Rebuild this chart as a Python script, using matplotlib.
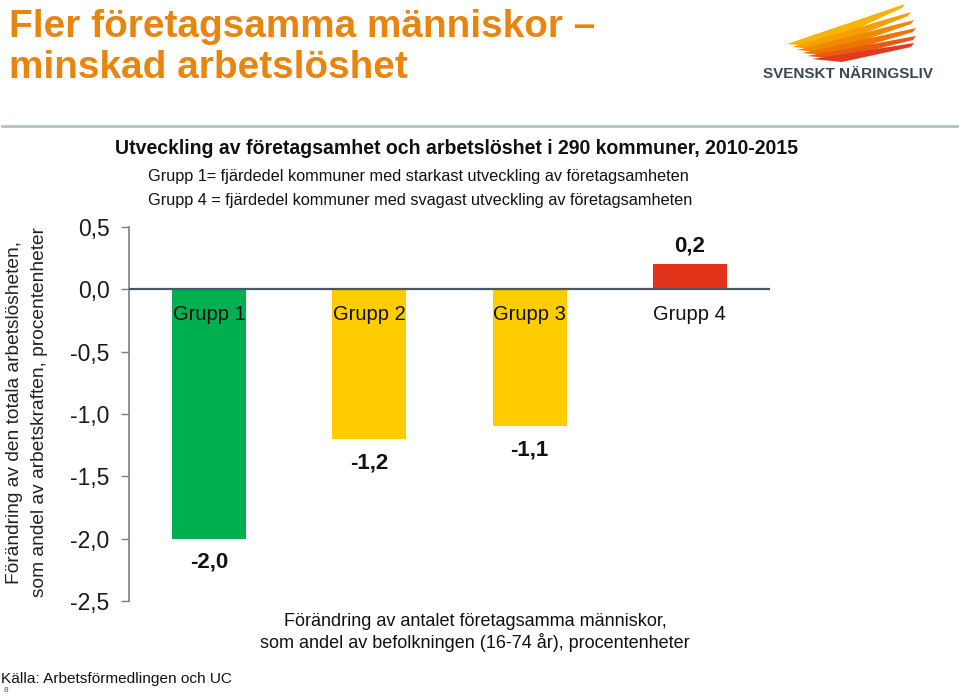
import matplotlib
matplotlib.use("Agg")
import matplotlib.pyplot as plt
from matplotlib.lines import Line2D
from matplotlib.patches import Polygon
import numpy as np

plt.rcParams['font.family'] = ['Liberation Sans', 'DejaVu Sans']

categories = ["Grupp 1", "Grupp 2", "Grupp 3", "Grupp 4"]
values = [-2.0, -1.2, -1.1, 0.2]
value_labels = ["-2,0", "-1,2", "-1,1", "0,2"]
bar_colors = ["#00B050", "#FFCC00", "#FFCC00", "#E2341A"]
yticks = [0.5, 0.0, -0.5, -1.0, -1.5, -2.0, -2.5]
ytick_labels = ["0,5", "0,0", "-0,5", "-1,0", "-1,5", "-2,0", "-2,5"]

W, H = 959, 696
fig = plt.figure(figsize=(W / 100, H / 100), dpi=100)


def fx(x):
    return x / W


def fy(y):
    return 1 - y / H


# Main axes
ax = fig.add_axes([fx(129), fy(601), fx(770) - fx(129), fy(227) - fy(601)])
x = np.arange(len(categories))
ax.bar(x, values, width=0.4625, color=bar_colors, zorder=2)
ax.set_xlim(-0.5, 3.5)
ax.set_ylim(-2.5, 0.5)
ax.set_yticks(yticks)
ax.set_yticklabels(ytick_labels, fontsize=16.5, color="#1a1a1a")
ax.tick_params(axis="y", direction="out", length=6, width=1, color="#7f7f7f", pad=8)
ax.set_xticks([])
for s in ["top", "right", "bottom"]:
    ax.spines[s].set_visible(False)
ax.spines["left"].set_color("#7f7f7f")
ax.spines["left"].set_linewidth(1.2)
ax.axhline(0, color="#4a5866", lw=1.6, zorder=3)

for i, (v, lab) in enumerate(zip(values, value_labels)):
    if v < 0:
        ax.annotate(lab, (i, v), xytext=(0, -17), textcoords="offset points",
                    ha="center", va="center", fontsize=16, fontweight="bold",
                    color="#111111")
    else:
        ax.annotate(lab, (i, v), xytext=(0, 13), textcoords="offset points",
                    ha="center", va="center", fontsize=16, fontweight="bold",
                    color="#111111")
    ax.text(i, -0.2, categories[i], ha="center", va="center", fontsize=14.5,
            color="#111111", zorder=4)

# Y label
fig.text(fx(15), fy(412), "Förändring av den totala arbetslösheten,", rotation=90,
         ha="center", va="center", fontsize=13.8, color="#222222")
fig.text(fx(40), fy(412), "som andel av arbetskraften, procentenheter", rotation=90,
         ha="center", va="center", fontsize=13.8, color="#222222")

# Headline
orange = "#E8850E"
fig.text(fx(9), fy(27), "Fler företagsamma människor –", ha="left", va="center",
         fontsize=27.9, fontweight="bold", color=orange)
fig.text(fx(9), fy(68), "minskad arbetslöshet", ha="left", va="center",
         fontsize=27.9, fontweight="bold", color=orange)

# Separator
fig.add_artist(Line2D([fx(2), 1.0], [fy(126), fy(126)], color="#b4c0c8", lw=2.0))

# Chart title and descriptions
fig.text(fx(115), fy(148), "Utveckling av företagsamhet och arbetslöshet i 290 kommuner, 2010-2015",
         ha="left", va="center", fontsize=14.05, fontweight="bold", color="#111111")
fig.text(fx(148), fy(176), "Grupp 1= fjärdedel kommuner med starkast utveckling av företagsamheten",
         ha="left", va="center", fontsize=11.7, color="#111111")
fig.text(fx(148), fy(201), "Grupp 4 = fjärdedel kommuner med svagast utveckling av företagsamheten",
         ha="left", va="center", fontsize=11.7, color="#111111")

# X description
fig.text(fx(475), fy(621), "Förändring av antalet företagsamma människor,",
         ha="center", va="center", fontsize=13.0, color="#111111")
fig.text(fx(475), fy(643), "som andel av befolkningen (16-74 år), procentenheter",
         ha="center", va="center", fontsize=13.0, color="#111111")

# Source
fig.text(fx(1), fy(679), "Källa: Arbetsförmedlingen och UC", ha="left", va="center",
         fontsize=11.1, color="#111111")
fig.text(fx(4), fy(691), "8", ha="left", va="center", fontsize=6, color="#555555")

# Logo
lax = fig.add_axes([fx(780), fy(65), fx(945) - fx(780), fy(0) - fy(65)])
lax.set_xlim(780, 945)
lax.set_ylim(65, 0)
lax.axis("off")
feathers = [
    ((787, 44), (905, 4), "#F7B500"),
    ((792, 47), (911, 12), "#F5A000"),
    ((797, 50), (914, 20), "#F08A00"),
    ((802, 53), (916, 28), "#EE7400"),
    ((807, 56), (916, 36), "#E85A10"),
    ((812, 59), (914, 43), "#E03A20"),
]
for (x0, y0), (x1, y1), c in feathers:
    poly = Polygon([(x0, y0), (x1, y1), (x1 - 3, y1 + 4), (x0 + 30, y0 + 3)],
                   closed=True, color=c, lw=0)
    lax.add_patch(poly)
fig.text(fx(848), fy(74), "SVENSKT NÄRINGSLIV", ha="center", va="center",
         fontsize=11, fontweight="bold", color="#3b4753")

fig.savefig("out.png", dpi=100)
